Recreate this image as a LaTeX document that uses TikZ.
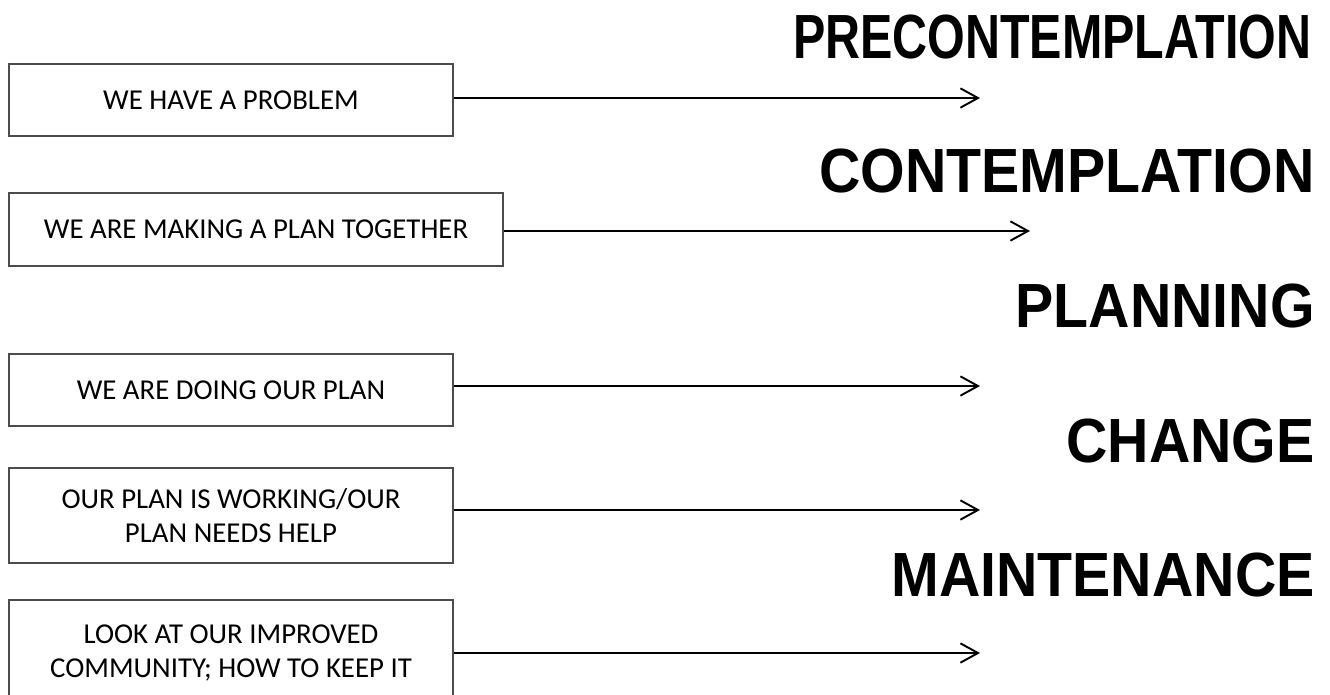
\documentclass[tikz,border=0pt]{standalone}
\usepackage{fontspec}
\setmainfont{Carlito}
\newfontfamily\headfont{Liberation Sans}
\usetikzlibrary{arrows.meta}

\tikzset{
  stagebox/.style={draw=black!70, line width=0.8pt, inner sep=0pt, align=center,
    font=\fontsize{16.4pt}{19.8pt}\selectfont},
  stagename/.style={anchor=base east, inner sep=0pt,
    font=\headfont\bfseries\fontsize{32.6pt}{36pt}\selectfont},
  flow/.style={line width=1.1pt, -{Straight Barb[length=10pt, width=11pt, line width=1.1pt]}}
}

\begin{document}
\begin{tikzpicture}[x=0.02cm, y=-0.02cm]
    % Khung hình
    \useasboundingbox (0,0) rectangle (1330,694);

    % Các hộp mô tả
    \node[stagebox, minimum width=444*0.02cm, minimum height=72*0.02cm] (b1) at (231,100) {WE HAVE A PROBLEM};
    \node[stagebox, minimum width=494*0.02cm, minimum height=73*0.02cm] (b2) at (256,229.5) {WE ARE MAKING A PLAN TOGETHER};
    \node[stagebox, minimum width=444*0.02cm, minimum height=72*0.02cm] (b3) at (231,390) {WE ARE DOING OUR PLAN};
    \node[stagebox, minimum width=444*0.02cm, minimum height=95*0.02cm] (b4) at (231,515.5) {OUR PLAN IS WORKING/OUR\\PLAN NEEDS HELP};
    \node[stagebox, minimum width=444*0.02cm, minimum height=106*0.02cm] (b5) at (231,653) {LOOK AT OUR IMPROVED\\COMMUNITY; HOW TO KEEP IT};

    % Điểm cuối các mũi tên
    \coordinate (e1) at (980,98);
    \coordinate (e2) at (1030,231);
    \coordinate (e3) at (980,386);
    \coordinate (e4) at (980,510);
    \coordinate (e5) at (980,653);

    % Các mũi tên
    \draw[flow] (b1.east |- e1) -- (e1);
    \draw[flow] (b2.east |- e2) -- (e2);
    \draw[flow] (b3.east |- e3) -- (e3);
    \draw[flow] (b4.east |- e4) -- (e4);
    \draw[flow] (b5.east |- e5) -- (e5);

    % Tên các giai đoạn
    \node[stagename] (s1) at (1312,58) {\scalebox{0.846}[1.09]{PRECONTEMPLATION}};
    \node[stagename] (s2) at (1315,192) {\scalebox{1}[1.09]{CONTEMPLATION}};
    \node[stagename] (s3) at (1315,327) {\scalebox{1}[1.09]{PLANNING}};
    \node[stagename] (s4) at (1315,462) {\scalebox{1}[1.09]{CHANGE}};
    \node[stagename] (s5) at (1315,596) {\scalebox{1}[1.09]{MAINTENANCE}};
\end{tikzpicture}
\end{document}
